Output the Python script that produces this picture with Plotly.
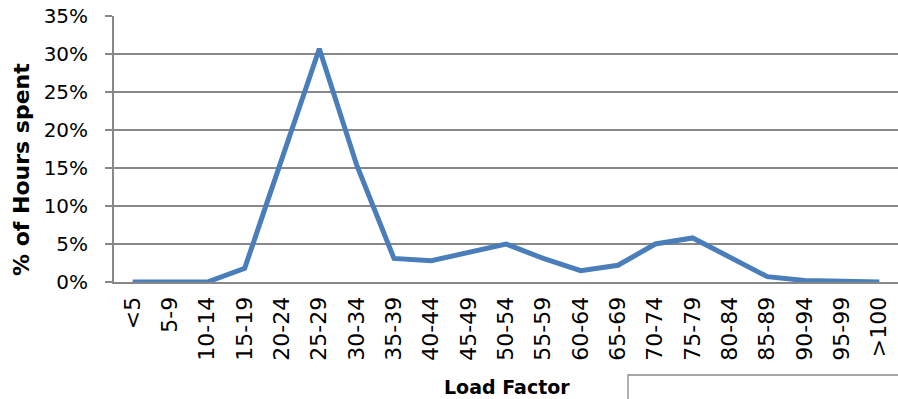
import plotly.graph_objects as go

categories = ["<5", "5-9", "10-14", "15-19", "20-24", "25-29", "30-34", "35-39",
              "40-44", "45-49", "50-54", "55-59", "60-64", "65-69", "70-74",
              "75-79", "80-84", "85-89", "90-94", "95-99", ">100"]
hours_pct = [0.0, 0.0, 0.0, 1.8, 16.0, 30.7, 15.4, 3.1,
             2.8, 3.9, 5.0, 3.1, 1.5, 2.2, 5.0,
             5.8, 3.2, 0.7, 0.2, 0.1, 0.0]
y_ticks = [0, 5, 10, 15, 20, 25, 30, 35]
y_tick_labels = [f"{v}%" for v in y_ticks]

W, H = 898, 399
ML, MR, MT, MB = 114, 0, 16, 117

FONT = "DejaVu Sans"
GRID = "#888888"

fig = go.Figure()
fig.add_trace(go.Scatter(
    x=categories, y=hours_pct, mode="lines",
    line=dict(color="#4A7EBB", width=5),
    hoverinfo="skip", showlegend=False,
))

fig.update_layout(
    width=W, height=H,
    margin=dict(l=ML, r=MR, t=MT, b=MB, pad=0),
    paper_bgcolor="white", plot_bgcolor="white",
    font=dict(family=FONT, color="black", size=20),
    showlegend=False,
)

fig.update_xaxes(
    type="category", tickangle=-90, showgrid=False,
    showline=True, linecolor=GRID, linewidth=1.8,
    ticks="", tickfont=dict(family=FONT, size=22, color="black"),
    ticklabelstandoff=4,
    range=[-0.5, len(categories) - 0.5], fixedrange=True,
)
fig.update_yaxes(
    range=[0, 35.001], tickvals=y_ticks, ticktext=y_tick_labels,
    showgrid=True, gridcolor=GRID, gridwidth=1.8,
    showline=True, linecolor=GRID, linewidth=1.8,
    ticks="outside", ticklen=7, tickcolor=GRID, tickwidth=1.8,
    tickfont=dict(family=FONT, size=20, color="black"),
    ticklabelstandoff=13,
    zeroline=False, fixedrange=True,
)

pw = W - ML - MR
ph = H - MT - MB

# helpers converting page pixels to paper coordinates
def px_x(p):
    return (p - ML) / pw

def px_y(p):
    return (H - MB - p) / ph

fig.add_annotation(
    text="<b>% of Hours spent</b>", textangle=-90,
    xref="paper", yref="paper", x=px_x(21), y=px_y(170),
    showarrow=False, font=dict(family=FONT, size=22, color="black"),
    xanchor="center", yanchor="middle",
)
fig.add_annotation(
    text="<b>Load Factor</b>",
    xref="paper", yref="paper", x=px_x(507), y=px_y(387),
    showarrow=False, font=dict(family=FONT, size=19, color="black"),
    xanchor="center", yanchor="middle",
)
fig.add_shape(
    type="rect", xref="paper", yref="paper",
    x0=px_x(628), x1=px_x(910), y0=px_y(410), y1=px_y(375),
    line=dict(color=GRID, width=1.3), fillcolor="rgba(0,0,0,0)",
    layer="above",
)

fig.write_html(
    "out.html",
    config={"displayModeBar": False},
    post_script="document.body.style.margin='0';document.documentElement.style.overflow='hidden';",
)
